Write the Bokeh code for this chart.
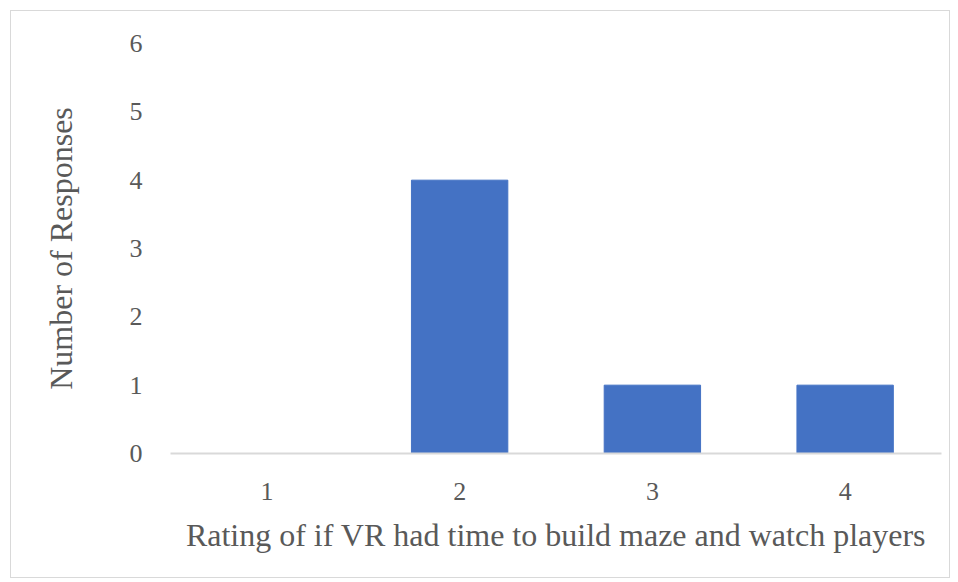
from bokeh.plotting import figure
from bokeh.models import ColumnDataSource, Range1d, FixedTicker
from bokeh.embed import file_html
from bokeh.resources import INLINE

ratings = ["1", "2", "3", "4"]
responses = [0, 4, 1, 1]
y_ticks = [0, 1, 2, 3, 4, 5, 6]

src = ColumnDataSource(dict(x=ratings, y=responses))

p = figure(x_range=ratings, y_range=Range1d(0, 6), width=940, height=568,
           output_backend="svg", toolbar_location=None,
           min_border_left=159, min_border_right=10, min_border_top=32, min_border_bottom=126)
p.margin = (10, 8, 4, 10)
p.styles = {"border": "1px solid #d9d9d9"}
p.outline_line_color = None
p.vbar(x="x", top="y", width=0.5, source=src, color="#4472c4")

font = "Liberation Serif"
txt = "#595959"
p.xgrid.grid_line_color = None
p.ygrid.grid_line_color = None

p.xaxis.axis_line_color = "#d9d9d9"
p.xaxis.axis_line_width = 2
p.xaxis.major_tick_line_color = None
p.xaxis.minor_tick_line_color = None
p.xaxis.major_label_text_font = font
p.xaxis.major_label_text_font_size = "26px"
p.xaxis.major_label_text_color = txt
p.xaxis.major_label_standoff = 23
p.xaxis.axis_label = "Rating of if VR had time to build maze and watch players"
p.xaxis.axis_label_text_font = font
p.xaxis.axis_label_text_font_size = "32px"
p.xaxis.axis_label_text_font_style = "normal"
p.xaxis.axis_label_text_color = txt
p.xaxis.axis_label_standoff = 14

p.yaxis.ticker = FixedTicker(ticks=y_ticks)
p.yaxis.axis_line_color = None
p.yaxis.major_tick_line_color = None
p.yaxis.minor_tick_line_color = None
p.yaxis.major_label_text_font = font
p.yaxis.major_label_text_font_size = "26px"
p.yaxis.major_label_text_color = txt
p.yaxis.major_label_standoff = 22
p.yaxis.axis_label = "Number of Responses"
p.yaxis.axis_label_text_font = font
p.yaxis.axis_label_text_font_size = "32px"
p.yaxis.axis_label_text_font_style = "normal"
p.yaxis.axis_label_text_color = txt
p.yaxis.axis_label_standoff = 48

open("out.html", "w").write(file_html(p, INLINE))
